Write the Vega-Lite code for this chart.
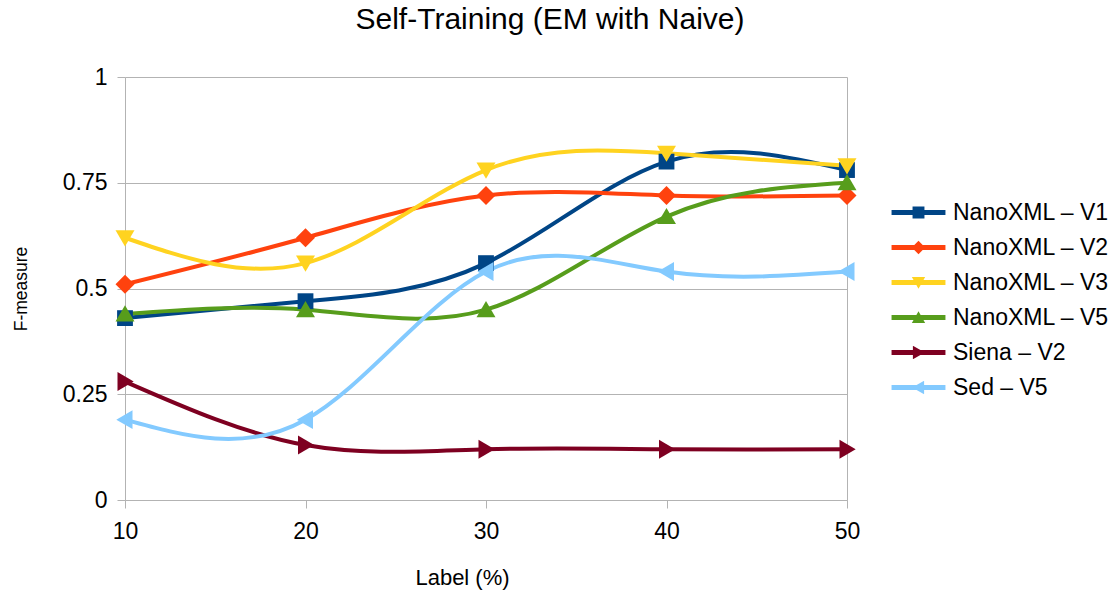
{
  "$schema": "https://vega.github.io/schema/vega-lite/v6.json",
  "width": 722,
  "height": 423,
  "autosize": {"type": "none"},
  "padding": {"left": 125, "top": 77, "right": 272, "bottom": 92},
  "background": "white",
  "config": {
    "font": "Liberation Sans",
    "view": {"stroke": null}
  },
  "title": {
    "text": "Self-Training (EM with Naive)",
    "fontSize": 30,
    "fontWeight": "normal",
    "color": "#000000",
    "offset": 31,
    "anchor": "middle",
    "dx": 64
  },
  "data": {
    "values": [
      {"x": 10, "series": "NanoXML – V1", "y": 0.43},
      {"x": 20, "series": "NanoXML – V1", "y": 0.47},
      {"x": 30, "series": "NanoXML – V1", "y": 0.56},
      {"x": 40, "series": "NanoXML – V1", "y": 0.80},
      {"x": 50, "series": "NanoXML – V1", "y": 0.78},
      {"x": 10, "series": "NanoXML – V2", "y": 0.51},
      {"x": 20, "series": "NanoXML – V2", "y": 0.62},
      {"x": 30, "series": "NanoXML – V2", "y": 0.72},
      {"x": 40, "series": "NanoXML – V2", "y": 0.72},
      {"x": 50, "series": "NanoXML – V2", "y": 0.72},
      {"x": 10, "series": "NanoXML – V3", "y": 0.62},
      {"x": 20, "series": "NanoXML – V3", "y": 0.56},
      {"x": 30, "series": "NanoXML – V3", "y": 0.78},
      {"x": 40, "series": "NanoXML – V3", "y": 0.82},
      {"x": 50, "series": "NanoXML – V3", "y": 0.79},
      {"x": 10, "series": "NanoXML – V5", "y": 0.44},
      {"x": 20, "series": "NanoXML – V5", "y": 0.45},
      {"x": 30, "series": "NanoXML – V5", "y": 0.45},
      {"x": 40, "series": "NanoXML – V5", "y": 0.67},
      {"x": 50, "series": "NanoXML – V5", "y": 0.75},
      {"x": 10, "series": "Siena – V2", "y": 0.28},
      {"x": 20, "series": "Siena – V2", "y": 0.13},
      {"x": 30, "series": "Siena – V2", "y": 0.12},
      {"x": 40, "series": "Siena – V2", "y": 0.12},
      {"x": 50, "series": "Siena – V2", "y": 0.12},
      {"x": 10, "series": "Sed – V5", "y": 0.19},
      {"x": 20, "series": "Sed – V5", "y": 0.19},
      {"x": 30, "series": "Sed – V5", "y": 0.54},
      {"x": 40, "series": "Sed – V5", "y": 0.54},
      {"x": 50, "series": "Sed – V5", "y": 0.54}
    ]
  },
  "encoding": {
    "x": {
      "field": "x",
      "type": "quantitative",
      "scale": {"domain": [10, 50], "nice": false, "zero": false},
      "axis": {
        "title": "Label (%)",
        "values": [10, 20, 30, 40, 50],
        "format": "d",
        "labelFontSize": 23,
        "labelColor": "#000000",
        "labelPadding": 12,
        "labelFlush": false,
        "tickSize": 8,
        "tickColor": "#b3b3b3",
        "domainColor": "#b3b3b3",
        "grid": true,
        "gridColor": {"condition": {"test": "datum.value === 50", "value": "#b3b3b3"}, "value": "transparent"},
        "titleFontSize": 22,
        "titleFontWeight": "normal",
        "titleColor": "#000000",
        "titlePadding": 24,
        "titleX": 337
      }
    },
    "y": {
      "field": "y",
      "type": "quantitative",
      "scale": {"domain": [0, 1], "nice": false},
      "axis": {
        "title": "F-measure",
        "values": [0, 0.25, 0.5, 0.75, 1],
        "format": ".2~f",
        "labelFontSize": 23,
        "labelColor": "#000000",
        "labelPadding": 10,
        "tickSize": 8,
        "tickColor": "#b3b3b3",
        "domainColor": "#b3b3b3",
        "grid": true,
        "gridColor": "#b3b3b3",
        "titleFontSize": 17.5,
        "titleFontWeight": "normal",
        "titleColor": "#000000",
        "titlePadding": 32
      }
    }
  },
  "layer": [
    {
      "mark": {"type": "line", "interpolate": "natural", "strokeWidth": 4},
      "encoding": {
        "color": {
          "field": "series",
          "type": "nominal",
          "scale": {
            "domain": ["NanoXML – V1", "NanoXML – V2", "NanoXML – V3", "NanoXML – V5", "Siena – V2", "Sed – V5"],
            "range": ["#004586", "#ff420e", "#ffd320", "#579d1c", "#7e0021", "#83caff"]
          },
          "legend": null
        }
      }
    },
    {
      "mark": {"type": "point", "filled": true, "opacity": 1, "size": 250},
      "encoding": {
        "color": {
          "field": "series",
          "type": "nominal",
          "scale": {
            "domain": ["NanoXML – V1", "NanoXML – V2", "NanoXML – V3", "NanoXML – V5", "Siena – V2", "Sed – V5"],
            "range": ["#004586", "#ff420e", "#ffd320", "#579d1c", "#7e0021", "#83caff"]
          },
          "legend": null
        },
        "shape": {
          "field": "series",
          "type": "nominal",
          "scale": {
            "domain": ["NanoXML – V1", "NanoXML – V2", "NanoXML – V3", "NanoXML – V5", "Siena – V2", "Sed – V5"],
            "range": [
              "M-1,-1H1V1H-1Z",
              "M0,-1.2L1.2,0L0,1.2L-1.2,0Z",
              "M-1.2,-0.95H1.2L0,1.1Z",
              "M0,-1.1L1.2,0.95H-1.2Z",
              "M-0.95,-1.2L1.1,0L-0.95,1.2Z",
              "M0.95,-1.2V1.2L-1.1,0Z"
            ]
          },
          "legend": null
        }
      }
    },
    {
      "transform": [{"filter": "false"}],
      "mark": {"type": "point", "filled": true, "opacity": 1},
      "encoding": {
        "color": {
          "field": "series",
          "type": "nominal",
          "scale": {
            "domain": ["NanoXML – V1", "NanoXML – V2", "NanoXML – V3", "NanoXML – V5", "Siena – V2", "Sed – V5"],
            "range": ["#004586", "#ff420e", "#ffd320", "#579d1c", "#7e0021", "#83caff"]
          },
          "legend": {
            "title": null,
            "orient": "none",
            "legendX": 782,
            "legendY": 124,
            "symbolSize": 196,
            "symbolStrokeWidth": 0,
            "symbolOpacity": 1,
            "labelFontSize": 23,
            "labelColor": "#000000",
            "labelOffset": 23,
            "rowPadding": 11,
            "labelLimit": 300
          }
        },
        "shape": {
          "field": "series",
          "type": "nominal",
          "scale": {
            "domain": ["NanoXML – V1", "NanoXML – V2", "NanoXML – V3", "NanoXML – V5", "Siena – V2", "Sed – V5"],
            "range": [
              "M-3.85,-0.36H3.85V0.36H-3.85Z M-0.85,-0.85H0.85V0.85H-0.85Z",
              "M-3.85,-0.36H3.85V0.36H-3.85Z M0,-0.95L0.95,0L0,0.95L-0.95,0Z",
              "M-3.85,-0.36H3.85V0.36H-3.85Z M-0.95,-0.8H0.95L0,0.9Z",
              "M-3.85,-0.36H3.85V0.36H-3.85Z M0,-0.9L0.95,0.8H-0.95Z",
              "M-3.85,-0.36H3.85V0.36H-3.85Z M-0.8,-0.95L0.9,0L-0.8,0.95Z",
              "M-3.85,-0.36H3.85V0.36H-3.85Z M0.8,-0.95V0.95L-0.9,0Z"
            ]
          },
          "legend": {
            "title": null,
            "orient": "none",
            "legendX": 782,
            "legendY": 124,
            "symbolSize": 196,
            "symbolStrokeWidth": 0,
            "symbolOpacity": 1,
            "labelFontSize": 23,
            "labelColor": "#000000",
            "labelOffset": 23,
            "rowPadding": 11,
            "labelLimit": 300
          }
        }
      }
    }
  ],
  "resolve": {"scale": {"color": "independent", "shape": "independent"}}
}
